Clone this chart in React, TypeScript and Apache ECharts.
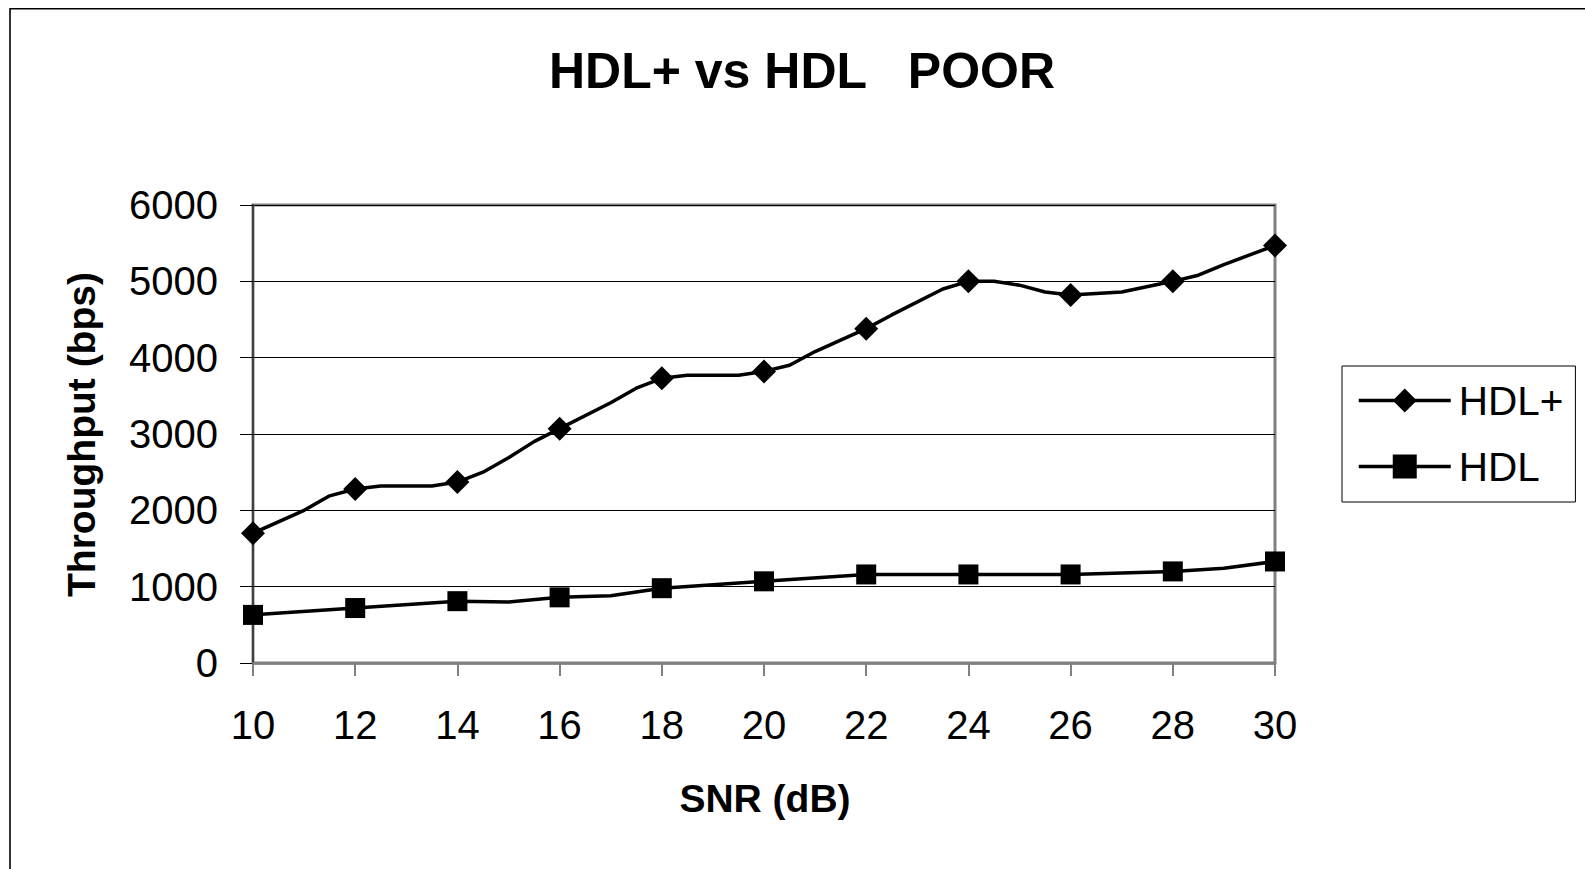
import React, { useEffect, useRef } from "react";
import * as echarts from "echarts";

const titleText = "HDL+ vs HDL   POOR";
const xAxisTitle = "SNR (dB)";
const yAxisTitle = "Throughput (bps)";
const seriesNames = ["HDL+", "HDL"];

const snrTicks = [10, 12, 14, 16, 18, 20, 22, 24, 26, 28, 30];
const throughputTicks = [0, 1000, 2000, 3000, 4000, 5000, 6000];

const hdlPlusSnr = [10, 11, 11.5, 12, 12.5, 13.5, 14, 14.5, 15, 15.5, 16, 17, 17.5, 18, 18.5, 19.5, 20, 20.5, 21, 22, 22.5, 23.5, 24, 24.5, 25, 25.5, 26, 27, 28, 28.5, 29, 30];
const hdlPlusThroughput = [1700, 2000, 2190, 2280, 2320, 2320, 2370, 2500, 2690, 2900, 3070, 3410, 3600, 3730, 3770, 3770, 3820, 3900, 4080, 4380, 4560, 4900, 5000, 5000, 4950, 4860, 4820, 4860, 5000, 5080, 5220, 5470];

const hdlSnr = [10, 12, 14, 15, 16, 17, 18, 20, 22, 24, 26, 28, 29, 30];
const hdlThroughput = [630, 720, 810, 800, 860, 880, 980, 1070, 1160, 1160, 1160, 1200, 1240, 1330];

const FONT = "'Liberation Sans', Arial, Helvetica, sans-serif";

function toPoints(xs: number[], ys: number[]) {
  return xs.map((x, i) =>
    snrTicks.includes(x) ? { value: [x, ys[i]] } : { value: [x, ys[i]], symbol: "none" }
  );
}

export default function App() {
  const ref = useRef<HTMLDivElement>(null);
  useEffect(() => {
    if (!ref.current) return;
    const chart = echarts.init(ref.current, undefined, { renderer: "svg" });
    const option: any = {
      animation: false,
      backgroundColor: "#ffffff",
      textStyle: { fontFamily: FONT, color: "#000" },
      grid: {
        left: 253,
        top: 205,
        right: 1585 - 1275,
        bottom: 869 - 663,
        show: true,
        borderColor: "#808080",
        borderWidth: 3,
        containLabel: false,
        outerBoundsMode: "none",
      },
      legend: {
        orient: "vertical",
        left: 1342,
        top: 366,
        padding: [14, 12, 15, 15],
        itemGap: 25,
        itemWidth: 92,
        itemHeight: 30,
        borderColor: "#000",
        borderWidth: 1,
        selectedMode: false,
        data: seriesNames,
        lineStyle: { width: 3.5, color: "#000" },
        textStyle: { fontFamily: FONT, fontSize: 40.5, color: "#000", lineHeight: 28, padding: [0, 0, 0, 3] },
      },
      xAxis: {
        type: "value",
        min: snrTicks[0],
        max: snrTicks[snrTicks.length - 1],
        interval: 2,
        axisLine: { show: true, lineStyle: { color: "#808080", width: 2.5 } },
        axisTick: { show: true, length: 13, lineStyle: { color: "#808080", width: 2 } },
        splitLine: { show: false },
        axisLabel: {
          fontFamily: FONT,
          fontSize: 40,
          color: "#000",
          margin: 62,
          verticalAlign: "middle",
          formatter: (v: number) => String(v),
        },
      },
      yAxis: {
        type: "value",
        min: throughputTicks[0],
        max: throughputTicks[throughputTicks.length - 1],
        interval: 1000,
        axisLine: { show: true, lineStyle: { color: "#404040", width: 2 } },
        axisTick: { show: true, length: 13, lineStyle: { color: "#000", width: 1 } },
        splitLine: { show: true, lineStyle: { color: "#000", width: 1 } },
        axisLabel: {
          fontFamily: FONT,
          fontSize: 40,
          color: "#000",
          margin: 35,
          padding: [0, 0, 8, 0],
          formatter: (v: number) => String(v),
        },
      },
      series: [
        {
          name: seriesNames[0],
          type: "line",
          data: toPoints(hdlPlusSnr, hdlPlusThroughput),
          symbol: "diamond",
          symbolSize: 24,
          showAllSymbol: true,
          lineStyle: { color: "#000", width: 3.5 },
          itemStyle: { color: "#000" },
          z: 3,
        },
        {
          name: seriesNames[1],
          type: "line",
          data: toPoints(hdlSnr, hdlThroughput),
          symbol: "rect",
          symbolSize: 20,
          showAllSymbol: true,
          lineStyle: { color: "#000", width: 3.5 },
          itemStyle: { color: "#000" },
          z: 3,
        },
      ],
      graphic: [
        { type: "line", shape: { x1: 10, y1: 8.7, x2: 1585, y2: 8.7 }, style: { stroke: "#000", lineWidth: 1.6 } },
        { type: "line", shape: { x1: 10, y1: 8, x2: 10, y2: 869 }, style: { stroke: "#000", lineWidth: 1.6 } },
        {
          type: "text",
          x: 802,
          y: 71,
          style: { text: titleText, font: `bold 50px ${FONT}`, fill: "#000", align: "center", verticalAlign: "middle" },
        },
        {
          type: "text",
          x: 765,
          y: 798,
          style: { text: xAxisTitle, font: `bold 39px ${FONT}`, fill: "#000", align: "center", verticalAlign: "middle" },
        },
        {
          type: "text",
          x: 81,
          y: 434.5,
          rotation: Math.PI / 2,
          style: { text: yAxisTitle, font: `bold 39px ${FONT}`, fill: "#000", align: "center", verticalAlign: "middle" },
        },
      ],
    };
    chart.setOption(option);
    return () => chart.dispose();
  }, []);
  return (
    <div
      ref={ref}
      style={{ position: "fixed", left: 0, top: 0, width: 1585, height: 869 }}
    />
  );
}
